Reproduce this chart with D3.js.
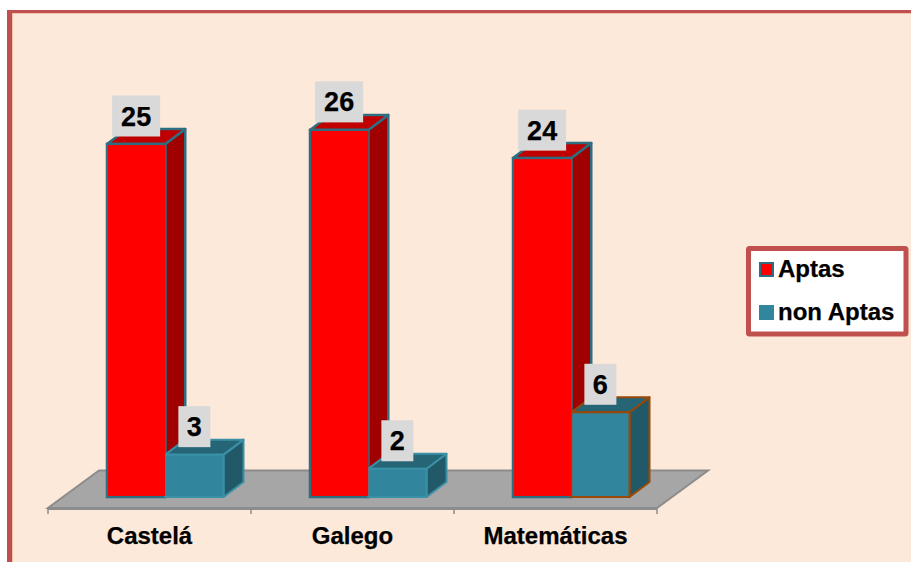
<!DOCTYPE html>
<html><head><meta charset="utf-8">
<script src="https://cdnjs.cloudflare.com/ajax/libs/d3/7.8.5/d3.min.js"></script>
<style>html,body{margin:0;padding:0;background:#fff}svg{display:block}text{font-family:"Liberation Sans",Arial,sans-serif;font-weight:bold;fill:#000;stroke:#000;stroke-width:.25px}</style>
</head><body><svg id="c" width="911" height="562"></svg>
<script>
const categories = ["Castelá", "Galego", "Matemáticas"];
const seriesNames = ["Aptas", "non Aptas"];
const aptas = [25, 26, 24];
const nonAptas = [3, 2, 6];

const svg = d3.select("#c");
const W = 911, H = 562;
const dx = 20, dy = -15, y0 = 497;
const x = d3.scaleBand().domain(categories).range([48, 657]);
const xs = d3.scaleBand().domain(seriesNames).range([59, 175.5]);
const y = d3.scaleLinear().domain([0, 25]).range([y0, 144]);

// page frame
svg.append("rect").attr("x", 7).attr("y", 10).attr("width", W).attr("height", H).attr("fill", "#c0504d");
svg.append("rect").attr("x", 12).attr("y", 13).attr("width", W).attr("height", H).attr("fill", "#f2c4ae");
svg.append("rect").attr("x", 13).attr("y", 14).attr("width", W).attr("height", H).attr("fill", "#fde9d9");

// floor
const floorY = y0 + 11;
svg.append("polygon")
  .attr("points", [[48, floorY], [657, floorY], [708, 470.5], [99, 470.5]].join(" "))
  .attr("fill", "#a6a6a6").attr("stroke", "#8c8c8c").attr("stroke-width", 2);
svg.append("line").attr("x1", 48).attr("x2", 657).attr("y1", floorY + 0.5).attr("y2", floorY + 0.5)
  .attr("stroke", "#8c8c8c").attr("stroke-width", 3);

// axis with ticks
const axisG = svg.append("g").attr("transform", `translate(0,${floorY})`);
const ticks = categories.map(c => x(c)).concat([x.range()[1]]);
axisG.selectAll("line").data(ticks).join("line")
  .attr("x1", d => d).attr("x2", d => d).attr("y1", 0).attr("y2", 6)
  .attr("stroke", "#8c8c8c").attr("stroke-width", 1.5);
svg.selectAll("text.cat").data(categories).join("text").attr("class", "cat")
  .attr("x", d => x(d) + x.bandwidth() / 2).attr("y", 544)
  .attr("text-anchor", "middle").attr("font-size", 24).text(d => d);

// bars
const styles = {
  "Aptas": {front: "#ff0000", top: "#c00000", side: "#a00000", stroke: "#2e6e80"},
  "non Aptas": {front: "#31859c", top: "#266576", side: "#215968", stroke: "#3b90a8"}
};
const rows = [];
categories.forEach((c, i) => {
  rows.push({c, s: "Aptas", v: aptas[i]});
});
categories.forEach((c, i) => {
  rows.push({c, s: "non Aptas", v: nonAptas[i]});
});
function bar(g, d) {
  const st = styles[d.s];
  const l = x(d.c) + xs(d.s), r = l + xs.bandwidth(), t = y(d.v);
  const stroke = (d.c === "Matemáticas" && d.s === "non Aptas") ? "#984807" : st.stroke;
  const sw = d.s === "Aptas" ? 2.5 : 2;
  g.append("polygon").attr("points", [[r, t], [r + dx, t + dy], [r + dx, y0 + dy], [r, y0]].join(" "))
    .attr("fill", st.side).attr("stroke", stroke).attr("stroke-width", sw).attr("stroke-linejoin", "round");
  g.append("polygon").attr("points", [[l, t], [l + dx, t + dy], [r + dx, t + dy], [r, t]].join(" "))
    .attr("fill", st.top).attr("stroke", stroke).attr("stroke-width", sw).attr("stroke-linejoin", "round");
  g.append("rect").attr("x", l).attr("y", t).attr("width", r - l).attr("height", y0 - t)
    .attr("fill", st.front).attr("stroke", stroke).attr("stroke-width", sw);
}
const barsG = svg.append("g");
categories.forEach(c => {
  rows.filter(d => d.c === c && d.s === "Aptas").forEach(d => bar(barsG, d));
  rows.filter(d => d.c === c && d.s === "non Aptas").forEach(d => bar(barsG, d));
  // red front repainted so the teal bar sits flush against it
  rows.filter(d => d.c === c && d.s === "Aptas").forEach(d => {
    const l = x(d.c) + xs(d.s);
    barsG.append("rect").attr("x", l + 1.25).attr("y", y(d.v) + 1.25)
      .attr("width", xs.bandwidth() - 1.25).attr("height", y0 - y(d.v) - 2.5).attr("fill", "#ff0000");
  });
});

// value labels
const lab = svg.selectAll("g.lab").data(rows).join("g").attr("class", "lab")
  .attr("transform", d => `translate(${x(d.c) + xs(d.s) + xs.bandwidth() / 2},${y(d.v) - 48.5})`);
lab.append("rect").attr("x", d => -(String(d.v).length === 2 ? 24 : 16)).attr("y", 0)
  .attr("width", d => String(d.v).length === 2 ? 48 : 32).attr("height", 41).attr("fill", "#d9d9d9");
lab.append("text").attr("y", 30).attr("text-anchor", "middle").attr("font-size", 27).text(d => d.v);

// legend
svg.append("rect").attr("x", 748.5).attr("y", 248.5).attr("width", 157.5).attr("height", 85.5)
  .attr("rx", 1).attr("fill", "#ffffff").attr("stroke", "#c0504d").attr("stroke-width", 5);
const legendY = d3.scalePoint().domain(seriesNames).range([276.5, 319.5]);
const lg = svg.selectAll("g.leg").data(seriesNames).join("g").attr("class", "leg");
lg.append("rect").attr("x", 760).attr("y", d => legendY(d) - 13.5).attr("width", 13).attr("height", 13)
  .attr("fill", d => styles[d].front).attr("stroke", d => d === "Aptas" ? "#2e6e80" : "#31859c").attr("stroke-width", 2);
lg.append("text").attr("x", 778).attr("y", d => legendY(d)).attr("font-size", 24).text(d => d);
</script></body></html>
